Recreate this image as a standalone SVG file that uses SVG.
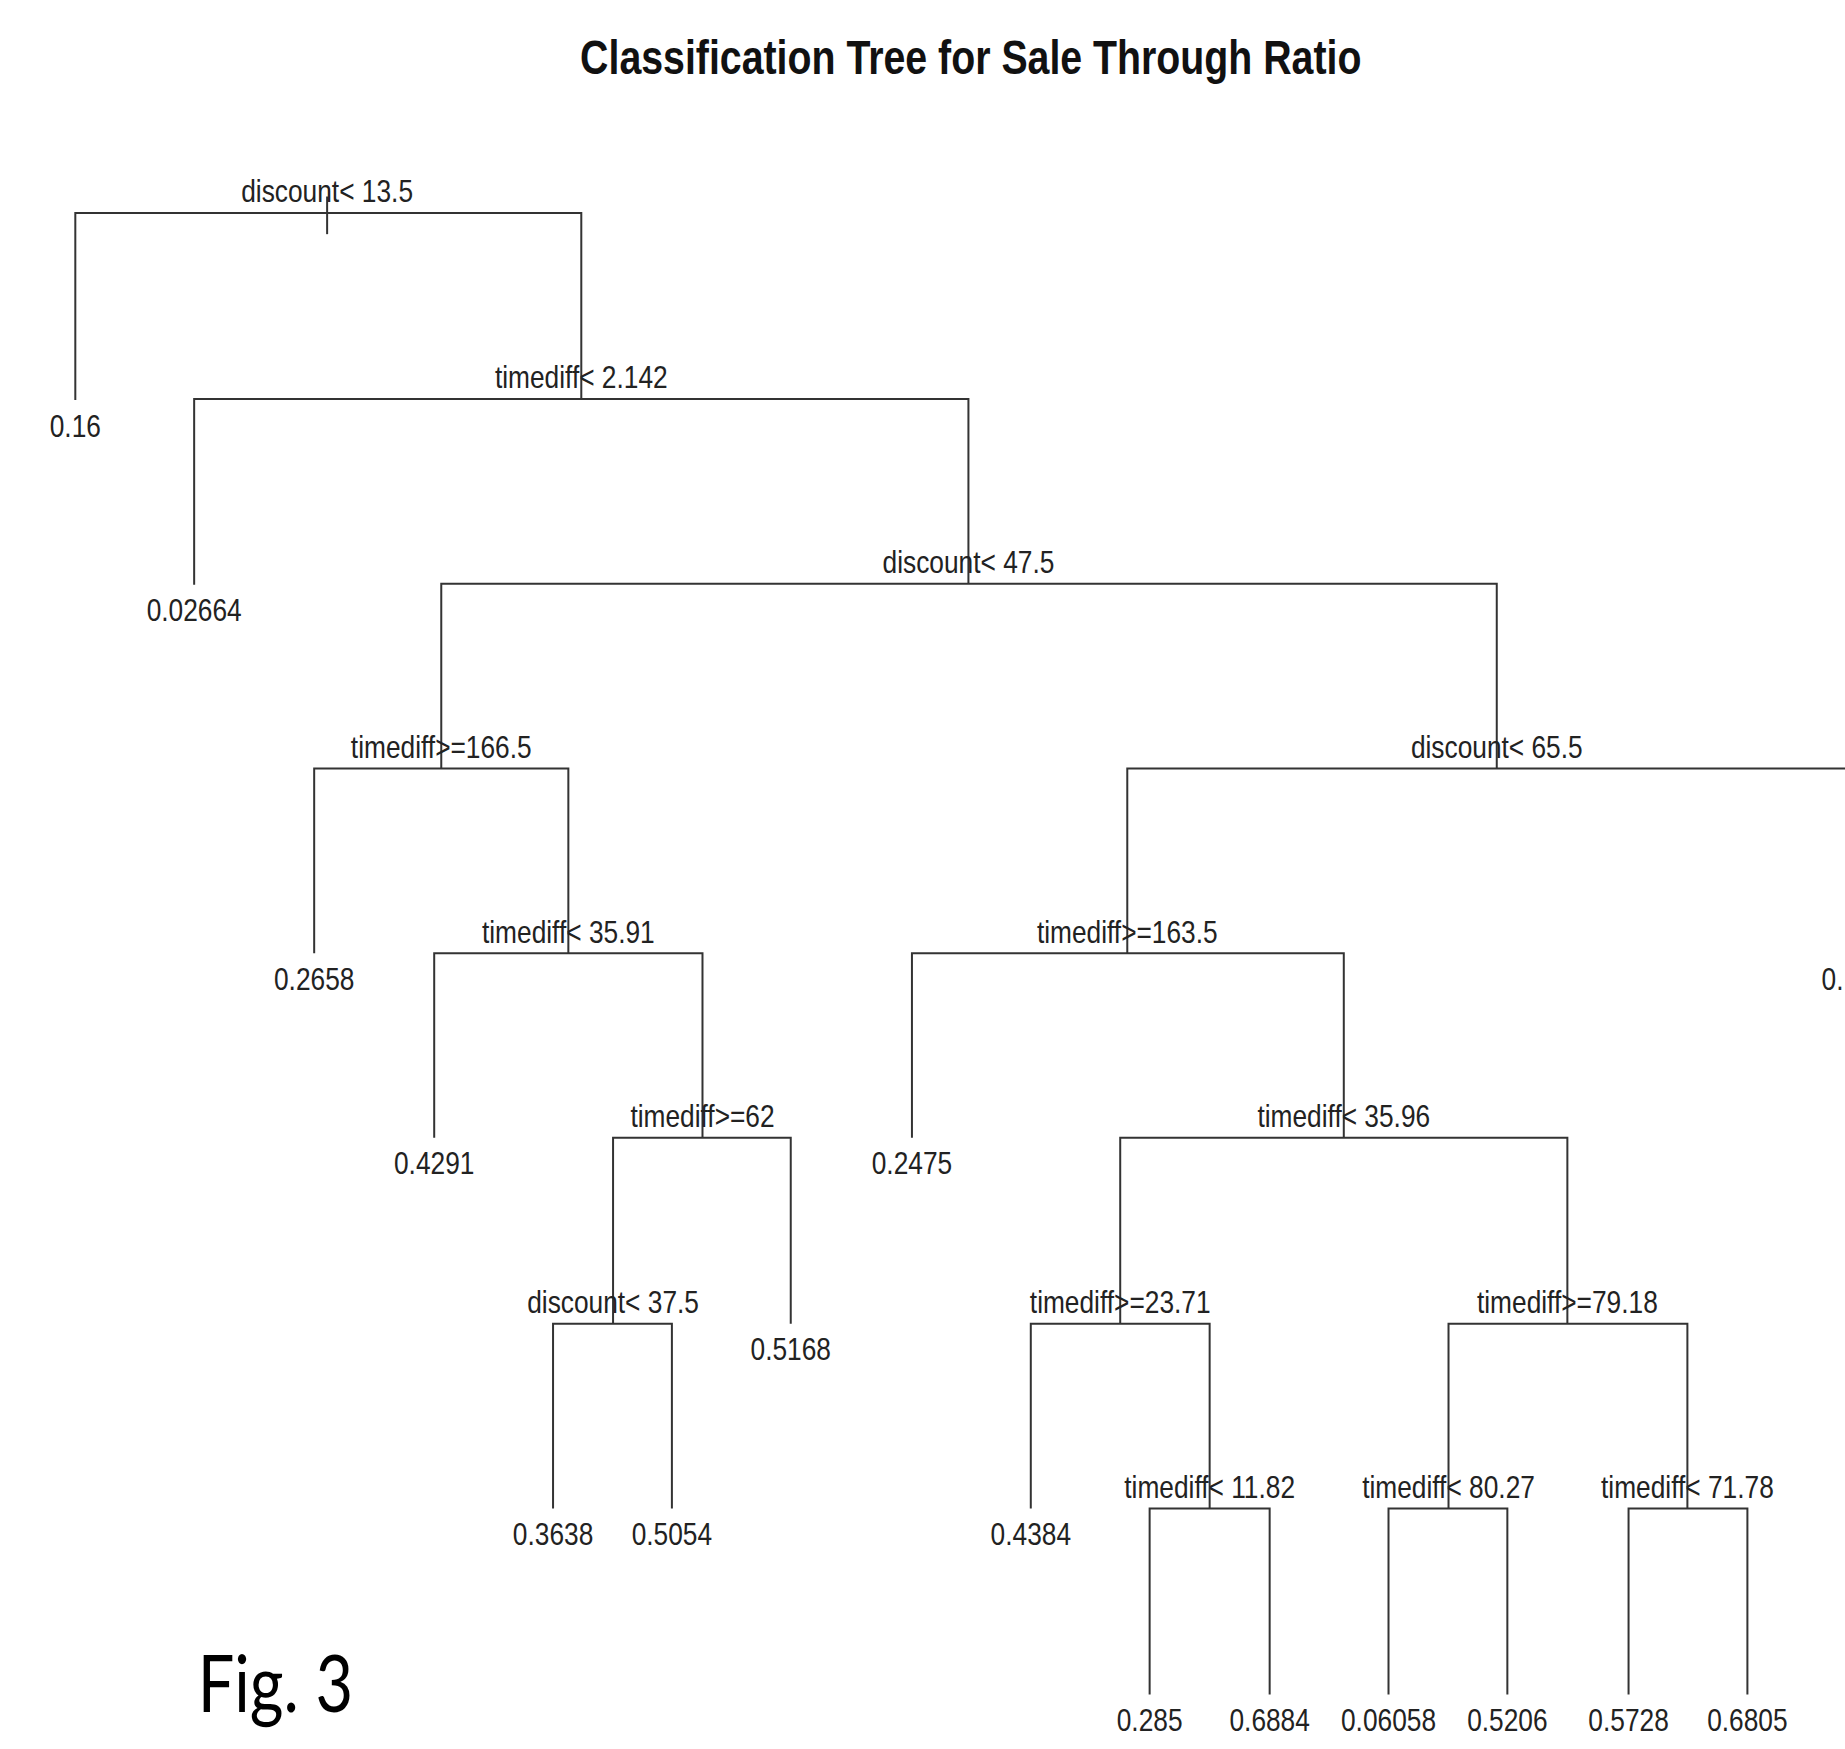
<svg xmlns="http://www.w3.org/2000/svg" width="1845" height="1749" viewBox="0 0 1845 1749">
<style>
.t{font-family:"Liberation Sans",Arial,sans-serif;font-size:26px;fill:#222;text-anchor:middle}
.ttl{font-family:"Liberation Sans",Arial,sans-serif;font-size:41px;font-weight:bold;fill:#111;text-anchor:middle}
.fig{font-family:Lato,"Open Sans",sans-serif;font-size:68px;fill:#000}
.c{fill:none;stroke:#333;stroke-width:1.7}
</style>
<rect width="1845" height="1749" fill="#fff"/>
<g transform="scale(1.1767)">
<text class="ttl" x="825" y="63" textLength="664" lengthAdjust="spacingAndGlyphs">Classification Tree for Sale Through Ratio</text>
<g id="connectors">
<path class="c" d="M278,167 V199"/>
<path class="c" d="M64,340 V181 H494 V339"/>
<path class="c" d="M165,497 V339 H823 V496"/>
<path class="c" d="M375,653 V496 H1272 V653"/>
<path class="c" d="M267,810 V653 H483 V810"/>
<path class="c" d="M369,967 V810 H597 V967"/>
<path class="c" d="M521,1125 V967 H672 V1125"/>
<path class="c" d="M470,1282 V1125 H571 V1282"/>
<path class="c" d="M958,810 V653 H1600"/>
<path class="c" d="M775,967 V810 H1142 V967"/>
<path class="c" d="M952,1125 V967 H1332 V1125"/>
<path class="c" d="M876,1282 V1125 H1028 V1282"/>
<path class="c" d="M977,1440 V1282 H1079 V1440"/>
<path class="c" d="M1231,1282 V1125 H1434 V1282"/>
<path class="c" d="M1180,1440 V1282 H1281 V1440"/>
<path class="c" d="M1384,1440 V1282 H1485 V1440"/>
</g>
<g id="n1"><text class="t" transform="translate(278,172) scale(0.86,1)">discount&lt; 13.5</text></g>
<g id="n2"><text class="t" transform="translate(494,330) scale(0.86,1)">timediff&lt; 2.142</text></g>
<g id="n3"><text class="t" transform="translate(823,487) scale(0.86,1)">discount&lt; 47.5</text></g>
<g id="n4"><text class="t" transform="translate(375,644) scale(0.86,1)">timediff&gt;=166.5</text></g>
<g id="n5"><text class="t" transform="translate(483,801) scale(0.86,1)">timediff&lt; 35.91</text></g>
<g id="n6"><text class="t" transform="translate(597,958) scale(0.86,1)">timediff&gt;=62</text></g>
<g id="n7"><text class="t" transform="translate(521,1116) scale(0.86,1)">discount&lt; 37.5</text></g>
<g id="n8"><text class="t" transform="translate(1272,644) scale(0.86,1)">discount&lt; 65.5</text></g>
<g id="n9"><text class="t" transform="translate(958,801) scale(0.86,1)">timediff&gt;=163.5</text></g>
<g id="n10"><text class="t" transform="translate(1142,958) scale(0.86,1)">timediff&lt; 35.96</text></g>
<g id="n11"><text class="t" transform="translate(952,1116) scale(0.86,1)">timediff&gt;=23.71</text></g>
<g id="n12"><text class="t" transform="translate(1028,1273) scale(0.86,1)">timediff&lt; 11.82</text></g>
<g id="n13"><text class="t" transform="translate(1332,1116) scale(0.86,1)">timediff&gt;=79.18</text></g>
<g id="n14"><text class="t" transform="translate(1231,1273) scale(0.86,1)">timediff&lt; 80.27</text></g>
<g id="n15"><text class="t" transform="translate(1434,1273) scale(0.86,1)">timediff&lt; 71.78</text></g>
<g id="l1"><text class="t" transform="translate(64,371) scale(0.86,1)">0.16</text></g>
<g id="l2"><text class="t" transform="translate(165,528) scale(0.86,1)">0.02664</text></g>
<g id="l3"><text class="t" transform="translate(267,841) scale(0.86,1)">0.2658</text></g>
<g id="l4"><text class="t" transform="translate(369,998) scale(0.86,1)">0.4291</text></g>
<g id="l5"><text class="t" transform="translate(672,1156) scale(0.86,1)">0.5168</text></g>
<g id="l6"><text class="t" transform="translate(470,1313) scale(0.86,1)">0.3638</text></g>
<g id="l7"><text class="t" transform="translate(571,1313) scale(0.86,1)">0.5054</text></g>
<g id="l8"><text class="t" transform="translate(775,998) scale(0.86,1)">0.2475</text></g>
<g id="l9"><text class="t" transform="translate(876,1313) scale(0.86,1)">0.4384</text></g>
<g id="l10"><text class="t" transform="translate(977,1471) scale(0.86,1)">0.285</text></g>
<g id="l11"><text class="t" transform="translate(1079,1471) scale(0.86,1)">0.6884</text></g>
<g id="l12"><text class="t" transform="translate(1180,1471) scale(0.86,1)">0.06058</text></g>
<g id="l13"><text class="t" transform="translate(1281,1471) scale(0.86,1)">0.5206</text></g>
<g id="l14"><text class="t" transform="translate(1384,1471) scale(0.86,1)">0.5728</text></g>
<g id="l15"><text class="t" transform="translate(1485,1471) scale(0.86,1)">0.6805</text></g>
<g id="l16"><text class="t" style="text-anchor:start" transform="translate(1548,841) scale(0.86,1)">0.</text></g>
<text class="fig" x="168" y="1455" textLength="132" lengthAdjust="spacingAndGlyphs">Fig. 3</text>
</g>
</svg>
